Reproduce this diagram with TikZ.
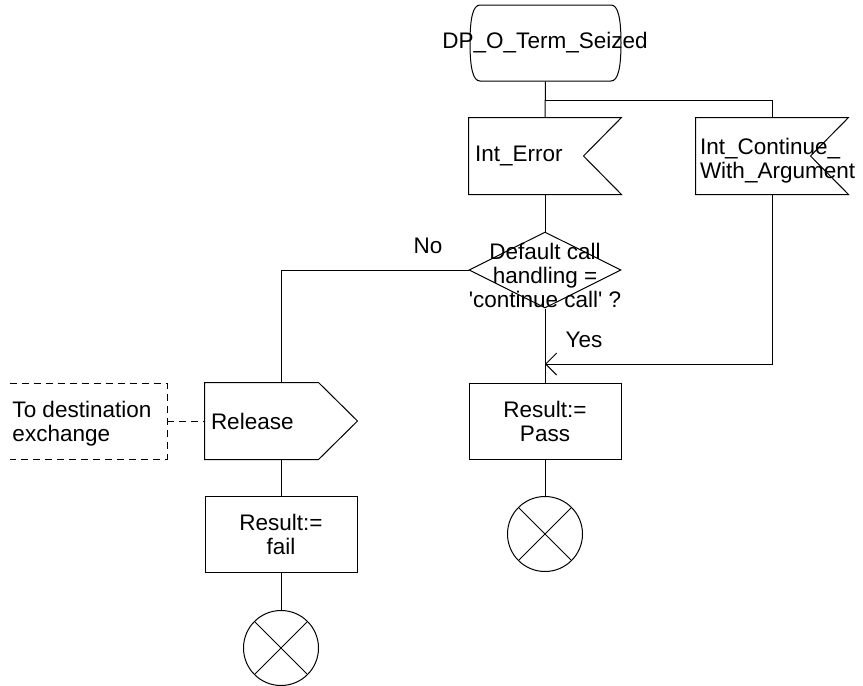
\documentclass[tikz,border=0pt]{standalone}
\usepackage{fontspec}
\setmainfont{Liberation Sans}
\usetikzlibrary{calc}
\usetikzlibrary{arrows.meta}
\usetikzlibrary{shapes.geometric}

\begin{document}
\begin{tikzpicture} [x=1pt,y=-1pt,line width=1pt,
  font=\fontsize{22.5}{24}\selectfont,
  frame/.style={minimum width=152pt,minimum height=76pt,inner sep=0pt},
  task/.style={frame,draw,align=center},
  stopsym/.style={draw,circle,minimum size=75pt,inner sep=0pt,
    path picture={\draw (path picture bounding box.north west) -- (path picture bounding box.south east)
                        (path picture bounding box.south west) -- (path picture bounding box.north east);}},
  note/.style={dashed,dash pattern=on 7pt off 5pt}]

\useasboundingbox (0,0) rectangle (863,686);

\coordinate (fork) at (545,100);
\coordinate (join) at (545,364);
\coordinate (ntl) at (10,383);
\coordinate (ntr) at (167,383);
\coordinate (nbr) at (167,459);
\coordinate (nbl) at (10,459);
\coordinate (nmid) at (167,421);

\draw (480,5) -- (611,5) .. controls (618,5) and (621,18) .. (621,43) .. controls (621,68) and (618,81) .. (611,81)
  -- (480,81) .. controls (473,81) and (470,68) .. (470,43) .. controls (470,18) and (473,5) .. (480,5);
\node[frame,minimum width=151pt] (startf) at (545.5,43) {};
\node (start) at (545,43) {DP\_O\_Term\_Seized};

\node[frame] (errf) at (545,156) {};
\draw (errf.north west) -- (errf.north east) -- ($(errf.east)+(-38,0)$) -- (errf.south east) -- (errf.south west) -- cycle;
\node[anchor=west,inner sep=0pt] (err) at ($(errf.west)+(6,0)$) {Int\_Error};

\node[frame] (contf) at (772,156) {};
\draw (contf.north west) -- (contf.north east) -- ($(contf.east)+(-38,0)$) -- (contf.south east) -- (contf.south west) -- cycle;
\node[anchor=west,inner sep=0pt,align=left] (cont) at ($(contf.west)+(4,5)$) {Int\_Continue\_\\With\_Argument};

\node[draw,diamond,minimum width=152pt,minimum height=76pt,inner sep=0pt] (dec) at (545,270) {};
\node[align=center,inner sep=0pt] (dectxt) at (545,275) {Default call\\handling =\\\textquotesingle continue call\textquotesingle{} ?};
\node (no) at (428,246) {No};
\node (yes) at (584,340) {Yes};

\node[frame] (relf) at (281,421) {};
\draw (relf.north west) -- ($(relf.north east)+(-39,0)$) -- (relf.east) -- ($(relf.south east)+(-39,0)$) -- (relf.south west) -- cycle;
\node[anchor=west,inner sep=0pt] (rel) at ($(relf.west)+(6,0)$) {Release};

\node[anchor=west,inner sep=0pt,align=left] (dest) at (12,424) {To destination\\exchange};
\draw[note] (ntl) -- (ntr) -- (nbr) -- (nbl);
\draw[note] (nmid) -- (relf.west);

\node[task] (pass) at (545,421) {Result:=\\Pass};
\node[task] (fail) at (281,534.5) {Result:=\\fail};
\node[stopsym] (stopa) at (545,534) {};
\node[stopsym] (stopb) at (281,648) {};

\draw (startf.south) -- (errf.north);
\draw (fork) -| (contf.north);
\draw (errf.south) -- (dec.north);
\draw (dec.west) -| (relf.north);
\draw (dec.south) -- (pass.north);
\draw[-{Straight Barb[length=11pt,width=22pt]}] (contf.south) |- (join);
\draw (pass.south) -- (stopa.north);
\draw (relf.south) -- (fail.north);
\draw (fail.south) -- (stopb.north);

\end{tikzpicture}
\end{document}
